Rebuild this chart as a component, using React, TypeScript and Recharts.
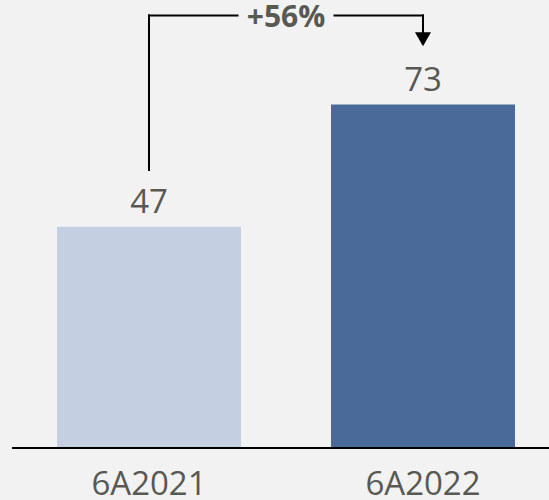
import React from 'react';
import { BarChart, Bar, XAxis, YAxis, Cell, LabelList, ReferenceLine, ReferenceDot } from 'recharts';

const categories = ['6A2021', '6A2022'];
const values = [47, 73];
const barColors = ['#c4cfe1', '#4a6b99'];
const changeLabel = '+56%';
// annotation levels in value units
const bracketTop = 91.9;
const bracketStart = 59.1;
const arrowLineEnd = 88.2;
const arrowTip = 85.4;

const data = categories.map((c, i) => ({ name: c, value: values[i] }));

const FONT = '"Open Sans", "Liberation Sans", sans-serif';
const TEXT = '#585952';
const BG = '#f2f2f2';

const ChangeLabel = (props: any) => {
  const vb = props.viewBox || {};
  const cx = vb.x + (vb.width || 0) / 2;
  const cy = vb.y;
  return (
    <g>
      <rect x={cx - 47.5} y={cy - 12} width={95} height={24} fill={BG} />
      <text x={cx} y={cy + 11} textAnchor="middle" fontFamily={FONT} fontWeight="bold" fontSize={30} fill={TEXT}>
        {changeLabel}
      </text>
    </g>
  );
};

const ArrowHead = (props: any) => {
  const { cx, cy } = props;
  return <polygon points={`${cx - 8},${cy - 14} ${cx + 8},${cy - 14} ${cx},${cy}`} fill="#000" />;
};

export default function App() {
  return (
    <div style={{ position: 'absolute', left: 0, top: 0, width: 549, height: 500, overflow: 'hidden', background: BG }}>
      <BarChart width={560} height={500} data={data} margin={{ top: 1, right: 0, left: 12, bottom: 0 }}>
        <XAxis
          dataKey="name"
          height={52}
          tickLine={false}
          tickSize={0}
          tickMargin={24}
          axisLine={{ stroke: '#000', strokeWidth: 2 }}
          tick={{ fill: TEXT, fontSize: 33, fontFamily: FONT }}
          interval={0}
        />
        <YAxis hide domain={[0, 95]} />
        <Bar dataKey="value" barSize={184} isAnimationActive={false}>
          {data.map((d, i) => (
            <Cell key={d.name} fill={barColors[i]} />
          ))}
          <LabelList dataKey="value" position="top" offset={14} fill={TEXT} fontSize={33} fontFamily={FONT} />
        </Bar>
        <ReferenceLine
          ifOverflow="visible"
          segment={[{ x: categories[0], y: bracketStart }, { x: categories[0], y: bracketTop }]}
          stroke="#000"
          strokeWidth={2}
          strokeLinecap="square"
        />
        <ReferenceLine
          ifOverflow="visible"
          segment={[{ x: categories[0], y: bracketTop }, { x: categories[1], y: bracketTop }]}
          stroke="#000"
          strokeWidth={2}
          strokeLinecap="square"
          label={<ChangeLabel />}
        />
        <ReferenceLine
          ifOverflow="visible"
          segment={[{ x: categories[1], y: bracketTop }, { x: categories[1], y: arrowLineEnd }]}
          stroke="#000"
          strokeWidth={2}
          strokeLinecap="square"
        />
        <ReferenceDot ifOverflow="visible" x={categories[1]} y={arrowTip} shape={<ArrowHead />} />
      </BarChart>
    </div>
  );
}
